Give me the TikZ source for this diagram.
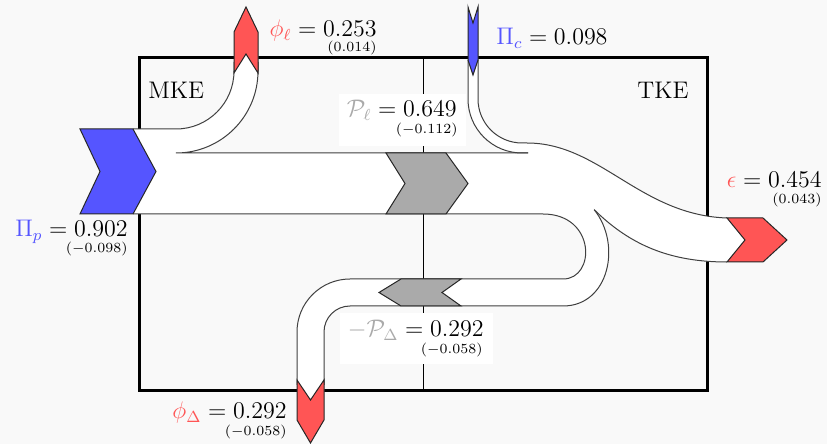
\documentclass[tikz,border=0pt]{standalone}
\usepackage{tikz}
\definecolor{sred}{RGB}{255,85,85}
\definecolor{sblue}{RGB}{85,85,255}
\definecolor{sgray}{RGB}{170,170,170}
\definecolor{bgc}{RGB}{249,249,249}
\begin{document}
\begin{tikzpicture}[x=0.5pt,y=-0.5pt,
  band/.style={fill=white,draw=none},
  edge/.style={draw=black!75,line width=0.5pt},
  chev/.style={draw=black!85,line width=0.5pt,line join=miter},
  lbl/.style={font=\large,inner sep=0pt},
  sublbl/.style={font=\fontsize{7}{8}\selectfont,inner sep=0pt}]
\fill[bgc] (0,0) rectangle (827,444);
\useasboundingbox (0,0) rectangle (827,444);
% frame and divider
\draw[line width=0.5pt] (423,58) -- (423,391);
\draw[line width=1.5pt] (139,58) rectangle (707,391);
% label backgrounds
\fill[white] (339,94) rectangle (466,146);
\fill[white] (340,313) rectangle (493,364);
% band fills
\path[band] (125,129) rectangle (180,214);
\path[band] (170,153) rectangle (545,214);
\path[band] (170,129) -- (176,129) arc[start angle=90,end angle=0,radius=58] -- (234,54) -- (258,54) -- (258,71) arc[start angle=0,end angle=90,radius=82] -- (170,153) -- cycle;
\path[band] (468,60) -- (468,99) arc[start angle=180,end angle=90,radius=54] -- (530,153) -- (530,143) -- (522,143) arc[start angle=90,end angle=180,radius=44] -- (478,60) -- cycle;
\path[band] (520,143) -- (527,143) .. controls (600,143) and (640,215) .. (726,218) -- (745,218) -- (745,262) -- (726,262) .. controls (670,262) and (630,245) .. (595,209) -- (543,190) -- (520,190) -- cycle;
\path[band] (540,187) -- (543,187) .. controls (627,187) and (627,306) .. (563,306) -- (350,306) arc[start angle=270,end angle=180,radius=26] -- (324,400) -- (297,400) -- (297,332) arc[start angle=180,end angle=270,radius=53] -- (563,279) .. controls (596,279) and (596,214) .. (543,214) -- (540,214) -- cycle;
% band edges
\draw[edge] (133,129) -- (176,129) arc[start angle=90,end angle=0,radius=58] -- (234,62);
\draw[edge] (258,62) -- (258,71) arc[start angle=0,end angle=90,radius=82] -- (528,153);
\draw[edge] (468,60) -- (468,99) arc[start angle=180,end angle=90,radius=54] -- (528,153);
\draw[edge] (478,60) -- (478,99) arc[start angle=180,end angle=90,radius=44] -- (527,143) .. controls (600,143) and (640,215) .. (727,218);
\draw[edge] (133,214) -- (543,214) .. controls (596,214) and (596,279) .. (563,279) -- (350,279) arc[start angle=270,end angle=180,radius=53] -- (297,385);
\draw[edge] (594.2,209.7) .. controls (622,244.3) and (609.1,306) .. (563,306) -- (350,306) arc[start angle=270,end angle=180,radius=26] -- (324,385);
\draw[edge] (594.2,209.7) .. controls (630,245) and (670,262) .. (727,262);
% chevrons
\filldraw[chev,fill=sblue] (80,129) -- (133,129) -- (156,171.5) -- (133,214) -- (80,214) -- (100,171.5) -- cycle;
\filldraw[chev,fill=sred] (234,73) -- (246,54) -- (258,73) -- (258,32) -- (246,7) -- (234,32) -- cycle;
\filldraw[chev,fill=sblue] (468,7) -- (473,23) -- (478,7) -- (478,60) -- (473,75) -- (468,60) -- cycle;
\filldraw[chev,fill=sgray] (386,153) -- (446,153) -- (468,183.5) -- (446,214) -- (386,214) -- (405,183.5) -- cycle;
\filldraw[chev,fill=sgray] (461,279) -- (401,279) -- (379,292.5) -- (401,306) -- (461,306) -- (442,292.5) -- cycle;
\filldraw[chev,fill=sred] (727,218) -- (763,218) -- (787,240) -- (763,262) -- (727,262) -- (745,240) -- cycle;
\filldraw[chev,fill=sred] (297,380) -- (310.5,400) -- (324,380) -- (324,420) -- (310.5,443) -- (297,420) -- cycle;
% labels
\node[lbl,anchor=base west] (mke) at (148,99) {MKE};
\node[lbl,anchor=base east] (tke) at (689,99) {TKE};
\node[lbl,anchor=base east] (phil) at (377,37) {$\textcolor{sred}{\phi_\ell} = 0.253$};
\node[sublbl,anchor=base east] (phils) at (377,52) {$(0.014)$};
\node[lbl,anchor=base west] (pic) at (496,45) {$\textcolor{sblue}{\Pi_c} = 0.098$};
\node[lbl,anchor=base east] (pl) at (457,117) {$\textcolor{sgray}{\mathcal{P}_\ell} = 0.649$};
\node[sublbl,anchor=base east] (pls) at (458,134) {$(-0.112)$};
\node[lbl,anchor=base east] (eps) at (822,188) {$\textcolor{sred}{\epsilon} = 0.454$};
\node[sublbl,anchor=base east] (epss) at (822,204) {$(0.043)$};
\node[lbl,anchor=base east] (pip) at (128,237) {$\textcolor{sblue}{\Pi_p} = 0.902$};
\node[sublbl,anchor=base east] (pips) at (128,253) {$(-0.098)$};
\node[lbl,anchor=base east] (pd) at (484,337) {$\textcolor{sgray}{-\mathcal{P}_\Delta} = 0.292$};
\node[sublbl,anchor=base east] (pds) at (483,354) {$(-0.058)$};
\node[lbl,anchor=base east] (phid) at (287,419) {$\textcolor{sred}{\phi_\Delta} = 0.292$};
\node[sublbl,anchor=base east] (phids) at (287,436) {$(-0.058)$};
\end{tikzpicture}
\end{document}
